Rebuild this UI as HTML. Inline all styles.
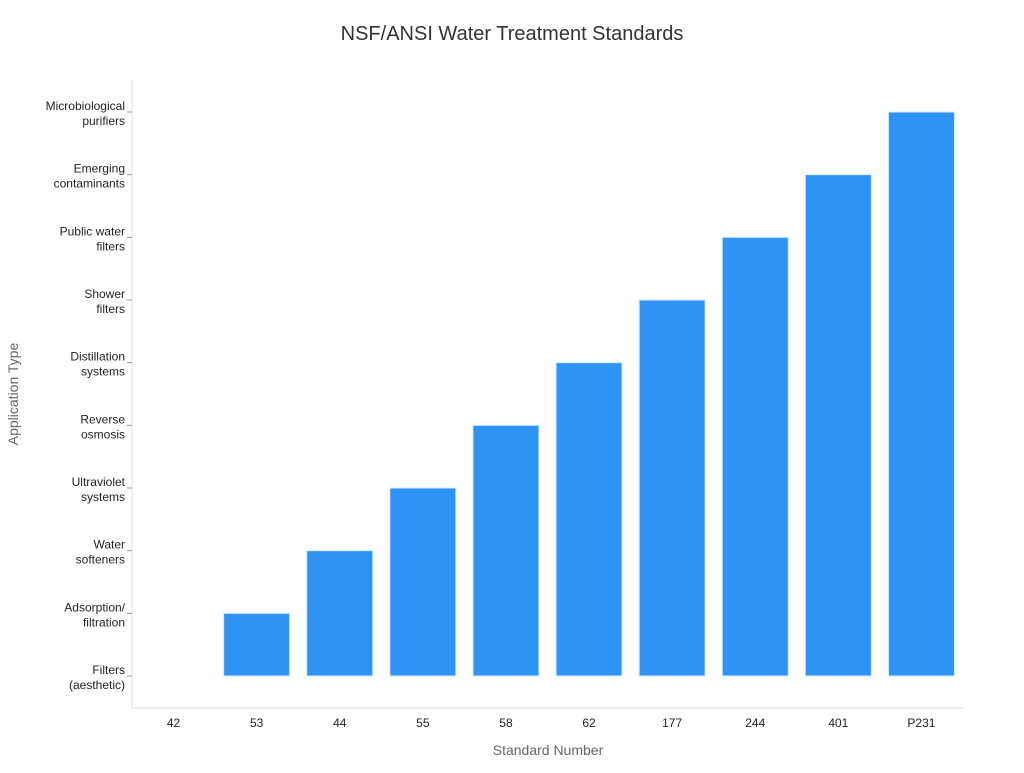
<!DOCTYPE html>
<html><head><meta charset="utf-8"><style>
body{margin:0;background:#fff;font-family:"Liberation Sans","DejaVu Sans",sans-serif;}
</style></head><body>
<svg id="chart" width="1024" height="768" xmlns="http://www.w3.org/2000/svg">
<text x="512" y="40" text-anchor="middle" font-size="20" fill="#333">NSF/ANSI Water Treatment Standards</text>
<line x1="132" y1="80" x2="132" y2="708" stroke="#ddd"/>
<line x1="132" y1="708" x2="963" y2="708" stroke="#ddd"/>
<g id="bars"></g><g id="yticks"></g><g id="xticks"></g>
<text x="548" y="755" text-anchor="middle" font-size="14" fill="#666">Standard Number</text>
<text transform="translate(18,394) rotate(-90)" text-anchor="middle" font-size="14" fill="#666">Application Type</text>
</svg>
<script>
const standards=["42","53","44","55","58","62","177","244","401","P231"];
const appTypes=[["Filters","(aesthetic)"],["Adsorption/","filtration"],["Water","softeners"],["Ultraviolet","systems"],["Reverse","osmosis"],["Distillation","systems"],["Shower","filters"],["Public water","filters"],["Emerging","contaminants"],["Microbiological","purifiers"]];
const appIndex=[0,1,2,3,4,5,6,7,8,9];
const NS="http://www.w3.org/2000/svg";
const x0=132,x1=963,step=(x1-x0)/standards.length;
function xPos(i){return x0+step*(i+0.5);}
function yPos(i){return 676-i*(676-112)/(appTypes.length-1);}
const bars=document.getElementById('bars'),yt=document.getElementById('yticks'),xt=document.getElementById('xticks');
appTypes.forEach((lab,i)=>{
 const y=yPos(i);
 const t=document.createElementNS(NS,'line');
 t.setAttribute('x1',127);t.setAttribute('x2',132);t.setAttribute('y1',y);t.setAttribute('y2',y);t.setAttribute('stroke','#999');
 
 
 yt.appendChild(t);
 const tx=document.createElementNS(NS,'text');
 tx.setAttribute('x',125);tx.setAttribute('y',y-2);tx.setAttribute('text-anchor','end');tx.setAttribute('font-size','12');tx.setAttribute('fill','#222');
 
 
 const a=document.createElementNS(NS,'tspan');a.setAttribute('x',125);a.textContent=lab[0];
 const b=document.createElementNS(NS,'tspan');b.setAttribute('x',125);b.setAttribute('dy','15');b.textContent=lab[1];
 tx.appendChild(a);tx.appendChild(b);yt.appendChild(tx);
});
standards.forEach((s,i)=>{
 const cx=xPos(i);
 const tx=document.createElementNS(NS,'text');
 tx.setAttribute('x',cx);tx.setAttribute('y',727);tx.setAttribute('text-anchor','middle');tx.setAttribute('font-size','12');tx.setAttribute('fill','#222');
 
 
 tx.textContent=s;xt.appendChild(tx);
 const top=yPos(appIndex[i]),base=yPos(0);
 const r=document.createElementNS(NS,'rect');
 r.setAttribute('x',cx-33);r.setAttribute('width',66);r.setAttribute('y',top);r.setAttribute('height',Math.max(base-top,0));
 r.setAttribute('fill','#2e93f5');r.setAttribute('stroke','#d6ecff');r.setAttribute('stroke-width','1');
 
 
 bars.appendChild(r);
});
</script>
</body></html>
